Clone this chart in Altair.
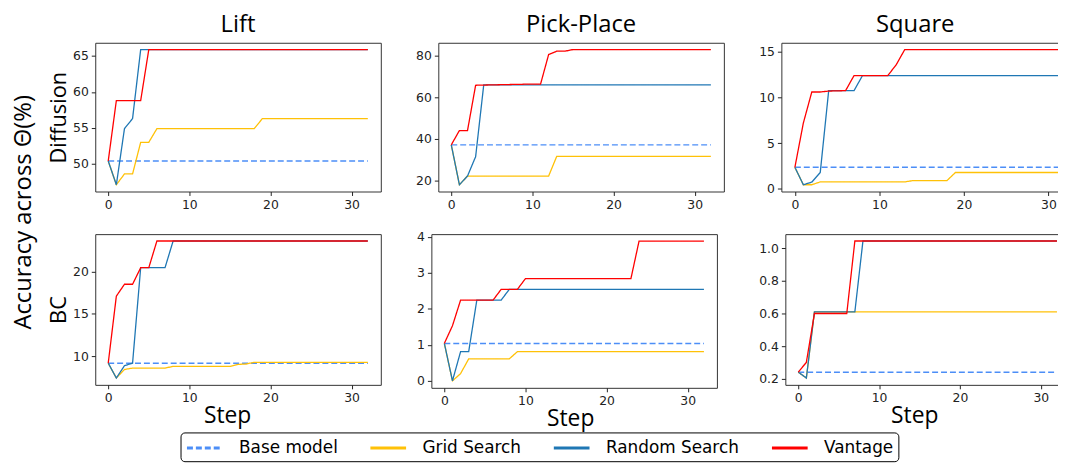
import altair as alt
import pandas as pd

METHODS = ["Base model", "Grid Search", "Random Search", "Vantage"]
COLORS = ["#4C8EF7", "#FFC107", "#1F77B4", "#FF0000"]
DASHES = [[6, 3], [1, 0], [1, 0], [1, 0]]
COL_TITLES = ["Lift", "Pick-Place", "Square"]
ROW_TITLES = ["Diffusion", "BC"]

# ---- Lift / Diffusion ----
LD_BASE = 50.4
LD_GRID_X = [0, 1, 2, 3, 4, 5, 6, 18, 19, 32]
LD_GRID_Y = [50.4, 47.1, 48.6, 48.6, 53.0, 53.0, 54.9, 54.9, 56.3, 56.3]
LD_RAND_X = [0, 1, 2, 3, 4, 32]
LD_RAND_Y = [50.4, 47.1, 54.9, 56.3, 65.9, 65.9]
LD_VANT_X = [0, 1, 4, 5, 32]
LD_VANT_Y = [50.4, 58.8, 58.8, 65.9, 65.9]

# ---- Pick-Place / Diffusion ----
PD_BASE = 37.1
PD_GRID_X = [0, 1, 2, 12, 13, 32]
PD_GRID_Y = [37.1, 17.9, 22.1, 22.1, 31.6, 31.6]
PD_RAND_X = [0, 1, 2, 3, 4, 32]
PD_RAND_Y = [37.1, 17.9, 22.1, 31.4, 66.0, 66.0]
PD_VANT_X = [0, 1, 2, 3, 4, 9, 11, 12, 13, 14, 15, 32]
PD_VANT_Y = [37.1, 44.0, 44.0, 65.8, 65.9, 66.3, 66.3, 80.6, 82.2, 82.2, 83.0, 83.0]

# ---- Square / Diffusion ----
SD_BASE = 2.35
SD_GRID_X = [0, 1, 2, 3, 13, 14, 18, 19, 32]
SD_GRID_Y = [2.35, 0.44, 0.44, 0.75, 0.75, 0.9, 0.9, 1.78, 1.78]
SD_RAND_X = [0, 1, 2, 3, 4, 7, 8, 32]
SD_RAND_Y = [2.35, 0.44, 0.73, 1.78, 10.75, 10.75, 12.4, 12.4]
SD_VANT_X = [0, 1, 2, 3, 4, 6, 7, 11, 12, 13, 32]
SD_VANT_Y = [2.35, 7.2, 10.6, 10.6, 10.7, 10.75, 12.4, 12.4, 13.6, 15.25, 15.25]

# ---- Lift / BC ----
LB_BASE = 9.2
LB_GRID_X = [0, 1, 2, 3, 7, 8, 15, 16, 17, 18, 32]
LB_GRID_Y = [9.2, 7.45, 8.45, 8.62, 8.62, 8.82, 8.82, 9.05, 9.1, 9.3, 9.3]
LB_RAND_X = [0, 1, 2, 3, 4, 7, 8, 32]
LB_RAND_Y = [9.2, 7.45, 8.9, 9.2, 20.45, 20.45, 23.6, 23.6]
LB_VANT_X = [0, 1, 2, 3, 4, 5, 6, 32]
LB_VANT_Y = [9.2, 17.1, 18.5, 18.5, 20.45, 20.45, 23.6, 23.6]

# ---- Pick-Place / BC ----
PB_BASE = 1.04
PB_GRID_X = [0, 1, 2, 3, 8, 9, 32]
PB_GRID_Y = [1.04, 0.0, 0.2, 0.61, 0.61, 0.81, 0.81]
PB_RAND_X = [0, 1, 2, 3, 4, 7, 8, 32]
PB_RAND_Y = [1.04, 0.0, 0.81, 0.81, 2.24, 2.24, 2.54, 2.54]
PB_VANT_X = [0, 1, 2, 6, 7, 9, 10, 23, 24, 32]
PB_VANT_Y = [1.04, 1.53, 2.24, 2.24, 2.54, 2.54, 2.84, 2.84, 3.88, 3.88]

# ---- Square / BC ----
SB_BASE = 0.24
SB_GRID_X = [0, 1, 2, 32]
SB_GRID_Y = [0.24, 0.204, 0.61, 0.61]
SB_RAND_X = [0, 1, 2, 7, 8, 32]
SB_RAND_Y = [0.24, 0.204, 0.61, 0.61, 1.045, 1.045]
SB_VANT_X = [0, 1, 2, 6, 7, 32]
SB_VANT_Y = [0.24, 0.30, 0.60, 0.60, 1.045, 1.045]

STEP_RANGE = [0, 32]
X_TICKS = [0, 10, 20, 30]

TITLE_FONT = "Open Sans"


def make_df(base, gx, gy, rx, ry, vx, vy):
    rows = []
    for s in STEP_RANGE:
        rows.append({"step": s, "acc": base, "method": "Base model"})
    for s, v in zip(gx, gy):
        rows.append({"step": s, "acc": v, "method": "Grid Search"})
    for s, v in zip(rx, ry):
        rows.append({"step": s, "acc": v, "method": "Random Search"})
    for s, v in zip(vx, vy):
        rows.append({"step": s, "acc": v, "method": "Vantage"})
    return pd.DataFrame(rows)


def ydomain(df):
    lo, hi = df["acc"].min(), df["acc"].max()
    m = (hi - lo) * 0.05
    return [lo - m, hi + m]


def panel(df, yticks, fmt, width, height, title=None, title_dx=0, ytitle=None,
          xtitle=None, xtitle_x=None):
    xd = [STEP_RANGE[0] - 1.6, STEP_RANGE[1] + 1.6]
    xaxis_kw = dict(values=X_TICKS, title=xtitle, format="d")
    if xtitle_x is not None:
        xaxis_kw["titleX"] = xtitle_x
    x = alt.X("step:Q", scale=alt.Scale(domain=xd, nice=False, zero=False),
              axis=alt.Axis(**xaxis_kw))
    y = alt.Y("acc:Q", scale=alt.Scale(domain=ydomain(df), nice=False, zero=False),
              axis=alt.Axis(values=yticks, format=fmt, title=ytitle))
    color = alt.Color("method:N", scale=alt.Scale(domain=METHODS, range=COLORS),
                      legend=alt.Legend(title=None))
    dash = alt.StrokeDash("method:N", scale=alt.Scale(domain=METHODS, range=DASHES),
                          legend=alt.Legend(title=None))
    base = alt.Chart(df)
    layers = []
    for m in METHODS:
        sw = 1.5 if m == "Base model" else 1.3
        layers.append(
            base.transform_filter(alt.datum.method == m)
            .mark_line(strokeWidth=sw)
            .encode(x=x, y=y, color=color, strokeDash=dash)
        )
    ch = alt.layer(*layers).properties(width=width, height=height)
    if title:
        ch = ch.properties(title=alt.TitleParams(title, fontSize=24, font=TITLE_FONT,
                                                 fontWeight="normal", offset=6, color="black",
                                                 frame="group", anchor="middle", dx=title_dx))
    return ch


p1 = panel(make_df(LD_BASE, LD_GRID_X, LD_GRID_Y, LD_RAND_X, LD_RAND_Y, LD_VANT_X, LD_VANT_Y),
           [50, 55, 60, 65], "d", 288, 150, title=COL_TITLES[0], ytitle=ROW_TITLES[0])
p2 = panel(make_df(PD_BASE, PD_GRID_X, PD_GRID_Y, PD_RAND_X, PD_RAND_Y, PD_VANT_X, PD_VANT_Y),
           [20, 40, 60, 80], "d", 288, 150, title=COL_TITLES[1])
p3 = panel(make_df(SD_BASE, SD_GRID_X, SD_GRID_Y, SD_RAND_X, SD_RAND_Y, SD_VANT_X, SD_VANT_Y),
           [0, 5, 10, 15], "d", 300, 150, title=COL_TITLES[2], title_dx=-15)
p4 = panel(make_df(LB_BASE, LB_GRID_X, LB_GRID_Y, LB_RAND_X, LB_RAND_Y, LB_VANT_X, LB_VANT_Y),
           [10, 15, 20], "d", 288, 152, ytitle=ROW_TITLES[1], xtitle="Step", xtitle_x=133)
p5 = panel(make_df(PB_BASE, PB_GRID_X, PB_GRID_Y, PB_RAND_X, PB_RAND_Y, PB_VANT_X, PB_VANT_Y),
           [0, 1, 2, 3, 4], "d", 288, 155, xtitle="Step", xtitle_x=140)
p6 = panel(make_df(SB_BASE, SB_GRID_X, SB_GRID_Y, SB_RAND_X, SB_RAND_Y, SB_VANT_X, SB_VANT_Y),
           [0.2, 0.4, 0.6, 0.8, 1.0], ".1f", 287, 152, xtitle="Step", xtitle_x=130)

row1 = alt.hconcat(p1, p2, p3, spacing=33)
row2 = alt.hconcat(alt.hconcat(p4, p5, spacing=34), p6, spacing=40)
grid = alt.vconcat(row1, row2, spacing=19)

ylabel = alt.Chart(pd.DataFrame({"t": ["Accuracy across Θ(%)"]})).mark_text(
    angle=270, fontSize=24, font=TITLE_FONT, align="center", baseline="middle", color="black"
).encode(text="t:N", x=alt.value(15), y=alt.value(171)).properties(
    width=28, height=340, view=alt.ViewBackground(stroke="transparent"))

# the right-hand column runs past the picture's edge in the reference: clip it
chart = alt.hconcat(ylabel, grid, spacing=9).properties(
    padding={"left": 0, "top": 2, "right": -22, "bottom": 29}
).configure(
    font="DejaVu Sans"
).configure_view(
    stroke="#333333", strokeWidth=1
).configure_axis(
    grid=False, domain=False, ticks=True, tickSize=4, tickColor="#222222",
    labelFont="DejaVu Sans", labelFontSize=12.5, labelColor="#222222", labelPadding=3,
    labelFlush=False,
    titleFont=TITLE_FONT, titleFontSize=23, titleFontWeight="normal", titleColor="black",
    titlePadding=0
).configure_axisY(
    titleFontSize=22, titlePadding=2
).configure_legend(
    orient="none", legendX=173, legendY=393, direction="horizontal",
    symbolType="M-1,0L3,0", symbolSize=324, symbolStrokeWidth=3,
    labelFont="DejaVu Sans", labelFontSize=17, labelColor="black", labelOffset=33,
    columnPadding=26, padding=5, cornerRadius=4, strokeColor="black", fillColor="white"
)

chart.save("out.html", embed_options={"renderer": "svg", "actions": False})
